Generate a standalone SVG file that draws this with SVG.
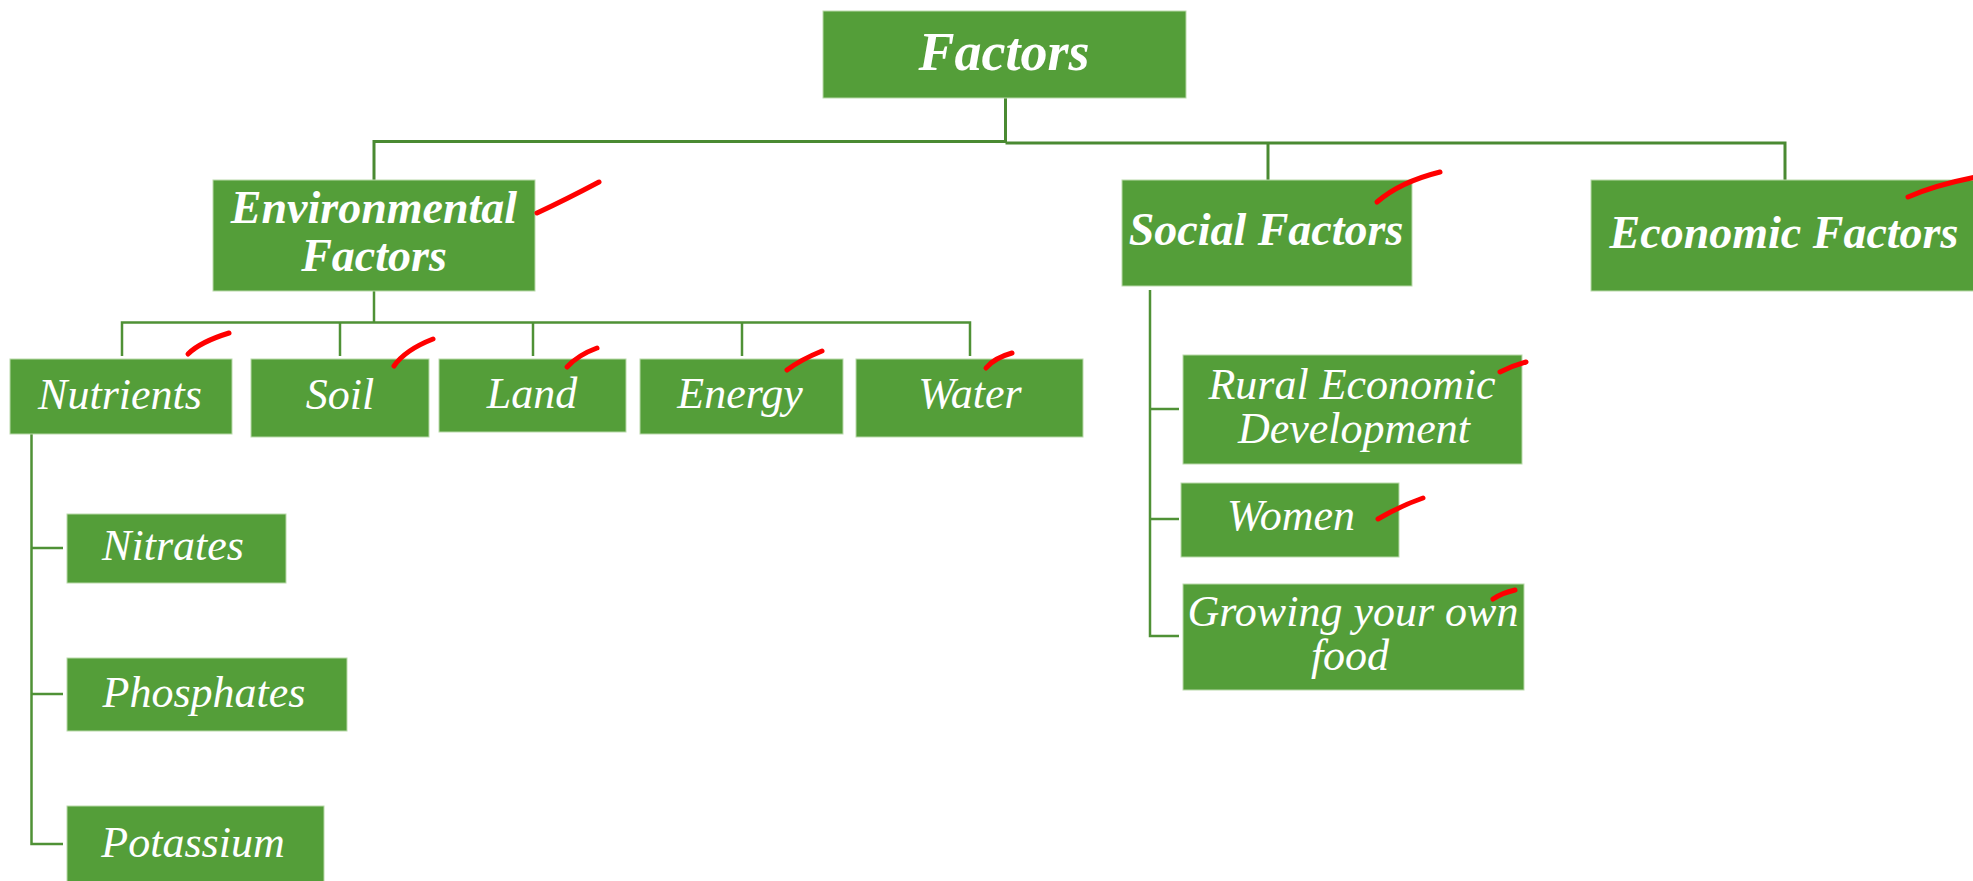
<svg xmlns="http://www.w3.org/2000/svg" width="1973" height="881" viewBox="0 0 1973 881">
<style>
.box{fill:#549e39;stroke:#b9d9aa;stroke-width:1}
.t1{font-family:"Liberation Serif",serif;font-style:italic;font-weight:bold;fill:#fff;text-anchor:middle}
.t2{font-family:"Liberation Serif",serif;font-style:italic;fill:#fff;text-anchor:middle;font-size:44px}
.c{fill:none;stroke:#4a8a32;stroke-width:3}
.c2{fill:none;stroke:#4f9136;stroke-width:2.5}
.mark{fill:none;stroke:#ff0000;stroke-width:5;stroke-linecap:round}
</style>
<rect width="1973" height="881" fill="#fff"/>
<g id="connectors">
<path class="c" d="M1005.5,98 V143"/>
<path class="c" d="M374,180 V141.5 H1005.5"/>
<path class="c" d="M1005.5,143 H1785 V180"/>
<path class="c" d="M1268,143 V180"/>
<path class="c2" d="M374,291 V322.5"/>
<path class="c2" d="M122,356 V322.5 H970 V356"/>
<path class="c2" d="M340,322.5 V356"/>
<path class="c2" d="M533,322.5 V356"/>
<path class="c2" d="M742,322.5 V356"/>
<path class="c2" d="M31.5,434 V844 H63"/>
<path class="c2" d="M31.5,548 H63"/>
<path class="c2" d="M31.5,694 H63"/>
<path class="c2" d="M1150,290 V636 H1179"/>
<path class="c2" d="M1150,409 H1179"/>
<path class="c2" d="M1150,519 H1179"/>
</g>
<g id="n-factors"><rect class="box" x="823" y="11" width="363" height="87"/><text class="t1" x="1004" y="70" font-size="54">Factors</text></g>
<g id="n-env"><rect class="box" x="213" y="180" width="322" height="111"/><text class="t1" x="374" y="223" font-size="46">Environmental</text><text class="t1" x="374" y="271" font-size="46">Factors</text></g>
<g id="n-social"><rect class="box" x="1122" y="180" width="290" height="106"/><text class="t1" x="1266" y="245" font-size="46">Social Factors</text></g>
<g id="n-econ"><rect class="box" x="1591" y="180" width="390" height="111"/><text class="t1" x="1784" y="248" font-size="46">Economic Factors</text></g>
<g id="n-nutrients"><rect class="box" x="10" y="359" width="222" height="75"/><text class="t2" x="120" y="409">Nutrients</text></g>
<g id="n-soil"><rect class="box" x="251" y="359" width="178" height="78"/><text class="t2" x="340" y="409">Soil</text></g>
<g id="n-land"><rect class="box" x="439" y="359" width="187" height="73"/><text class="t2" x="532" y="408">Land</text></g>
<g id="n-energy"><rect class="box" x="640" y="359" width="203" height="75"/><text class="t2" x="740" y="408">Energy</text></g>
<g id="n-water"><rect class="box" x="856" y="359" width="227" height="78"/><text class="t2" x="970" y="408">Water</text></g>
<g id="n-nitrates"><rect class="box" x="67" y="514" width="219" height="69"/><text class="t2" x="173" y="560">Nitrates</text></g>
<g id="n-phosphates"><rect class="box" x="67" y="658" width="280" height="73"/><text class="t2" x="204" y="707">Phosphates</text></g>
<g id="n-potassium"><rect class="box" x="67" y="806" width="257" height="80"/><text class="t2" x="193" y="857">Potassium</text></g>
<g id="n-rural"><rect class="box" x="1183" y="355" width="339" height="109"/><text class="t2" x="1352" y="399">Rural Economic</text><text class="t2" x="1354" y="443">Development</text></g>
<g id="n-women"><rect class="box" x="1181" y="483" width="218" height="74"/><text class="t2" x="1291" y="530">Women</text></g>
<g id="n-growing"><rect class="box" x="1183" y="584" width="341" height="106"/><text class="t2" x="1353" y="626">Growing your own</text><text class="t2" x="1350" y="670">food</text></g>
<g id="marks">
<path class="mark" d="M537,213 Q565,200 599,182"/>
<path class="mark" d="M1377,202 Q1400,182 1440,172"/>
<path class="mark" d="M1908,197 Q1935,185 1976,177"/>
<path class="mark" d="M188,354 Q200,342 229,333"/>
<path class="mark" d="M394,366 Q405,350 433,339"/>
<path class="mark" d="M567,367 Q578,355 597,348"/>
<path class="mark" d="M787,370 Q800,360 822,351"/>
<path class="mark" d="M986,368 Q994,358 1012,353"/>
<path class="mark" d="M1500,372 Q1512,366 1526,362"/>
<path class="mark" d="M1378,519 Q1400,506 1423,498"/>
<path class="mark" d="M1493,599 Q1502,593 1515,590"/>
</g>
</svg>
